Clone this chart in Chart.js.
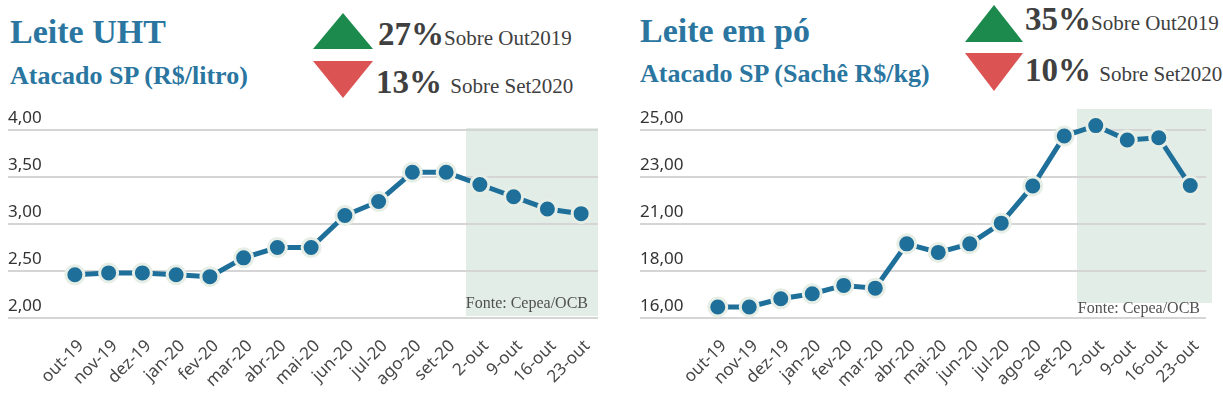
<!DOCTYPE html>
<html>
<head>
<meta charset="utf-8">
<script src="https://cdn.jsdelivr.net/npm/chart.js@4.4.0/dist/chart.umd.min.js"></script>
<style>
    body { margin: 0; background: #fff; width: 1223px; height: 398px; overflow: hidden; position: relative; font-family: 'Liberation Serif', 'Times New Roman', serif; }
    .title { position: absolute; font-weight: bold; color: #2a76a0; white-space: nowrap; line-height: 1; }
    .title.main { font-size: 34px; }
    .title.sub { font-size: 26px; }
    .pct { position: absolute; white-space: nowrap; line-height: 1; color: #404040; font-size: 33px; font-weight: bold; }
    .pct span { font-size: 21px; font-weight: normal; }
    .tri { position: absolute; width: 0; height: 0; }
    .up { border-left: 30px solid transparent; border-right: 30px solid transparent; border-bottom: 36px solid #1b8a4c; }
    .down { border-left: 30px solid transparent; border-right: 30px solid transparent; border-top: 37px solid #dc5353; }
    .chart-box { position: absolute; top: 100px; height: 298px; }
</style>
</head>
<body>

<div class="title main" style="left:10px; top:15px;">Leite UHT</div>
<div class="title sub" style="left:10px; top:63px;">Atacado SP (R$/litro)</div>
<div class="tri up" style="left:313px; top:13px;"></div>
<div class="tri down" style="left:313px; top:61px;"></div>
<div class="pct" style="left:378px; top:18px;">27%<span>Sobre Out2019</span></div>
<div class="pct" style="left:376px; top:66px;">13% <span>Sobre Set2020</span></div>

<div class="title main" style="left:640px; top:14px;">Leite em pó</div>
<div class="title sub" style="left:640px; top:61px;">Atacado SP (Sachê R$/kg)</div>
<div class="tri up" style="left:965px; top:5px; border-left-width:29px; border-right-width:29px; border-bottom-width:37px;"></div>
<div class="tri down" style="left:965px; top:53px; border-left-width:29px; border-right-width:29px; border-top-width:38px;"></div>
<div class="pct" style="left:1025px; top:3px;">35%<span>Sobre Out2019</span></div>
<div class="pct" style="left:1025px; top:54px;">10% <span>Sobre Set2020</span></div>

<div class="chart-box" style="left:0px; width:610px;"><canvas id="uht-canvas"></canvas></div>
<div class="chart-box" style="left:620px; width:603px;"><canvas id="po-canvas"></canvas></div>

<script>
// Data
const categories = ['out-19', 'nov-19', 'dez-19', 'jan-20', 'fev-20', 'mar-20', 'abr-20', 'mai-20',
    'jun-20', 'jul-20', 'ago-20', 'set-20', '2-out', '9-out', '16-out', '23-out'];
const uhtValues = [2.46, 2.48, 2.48, 2.46, 2.44, 2.64, 2.75, 2.75, 3.09, 3.24, 3.55, 3.55, 3.42, 3.29, 3.16, 3.11];
const poValues = [16.53, 16.53, 16.92, 17.16, 17.56, 17.43, 19.55, 19.14, 19.55, 20.54, 22.32, 24.71, 25.21, 24.52, 24.63, 22.34];
const uhtTicks = { min: 2, max: 4, step: 0.5 };
const poTicks = { min: 16, max: 25, step: 2.25 };
const shadeFrom = '2-out';
const sourceText = 'Fonte: Cepea/OCB';

const BLUE = '#1e6f9a';

// shaded "October" band + source note
const shadePlugin = {
    id: 'shade',
    beforeDraw(chart, args, opts) {
        const { ctx, chartArea, scales } = chart;
        const x = scales.x;
        const idx = categories.indexOf(opts.from);
        const half = (x.getPixelForValue(1) - x.getPixelForValue(0)) / 2;
        const left = x.getPixelForValue(idx) - half + opts.inset.left;
        const right = chartArea.right + opts.inset.right;
        const top = chartArea.top - opts.inset.top;
        const bottom = chartArea.bottom - opts.inset.bottom;
        ctx.save();
        ctx.fillStyle = '#e2ede7';
        ctx.fillRect(left, top, right - left, bottom - top);
        ctx.restore();
    },
    beforeDatasetsDraw(chart, args, opts) {
        const { ctx, chartArea } = chart;
        ctx.save();
        ctx.font = '16px "Liberation Serif", serif';
        ctx.fillStyle = '#505050';
        ctx.textAlign = 'right';
        ctx.textBaseline = 'alphabetic';
        ctx.fillText(sourceText, chartArea.right - opts.text.right, chartArea.bottom - opts.text.bottom);
        ctx.restore();
    }
};

function makeChart(canvasId, values, ticks, formatTick, layout, shadeOpts) {
    const ctx = document.getElementById(canvasId);
    return new Chart(ctx, {
        type: 'line',
        data: {
            labels: categories,
            datasets: [{
                data: values,
                borderColor: BLUE,
                borderWidth: 5,
                tension: 0,
                pointRadius: 9,
                pointBorderWidth: 3,
                pointBackgroundColor: BLUE,
                pointBorderColor: '#e6eee6',
                clip: false
            }]
        },
        options: {
            responsive: true,
            maintainAspectRatio: false,
            animation: false,
            layout: { padding: layout.padding },
            plugins: {
                legend: { display: false },
                tooltip: { enabled: false },
                shade: shadeOpts
            },
            scales: {
                x: {
                    offset: true,
                    grid: { display: false, drawTicks: false },
                    border: { display: false },
                    ticks: {
                        autoSkip: false,
                        maxRotation: 45,
                        minRotation: 45,
                        padding: 18,
                        labelOffset: 6,
                        color: '#484848',
                        font: { family: 'Noto Sans', size: 17 }
                    },
                    afterFit(scale) {
                        scale.height = layout.xHeight;
                        scale.paddingLeft = 0;
                        scale.paddingRight = 0;
                    }
                },
                y: {
                    min: ticks.min,
                    max: ticks.max,
                    border: { display: false },
                    grid: { color: '#d5d5d5', lineWidth: 2, tickLength: layout.yWidth },
                    ticks: {
                        stepSize: ticks.step,
                        crossAlign: 'far',
                        labelOffset: -12,
                        padding: 0,
                        color: '#333',
                        font: { family: 'Noto Sans', size: 17 },
                        callback: formatTick
                    },
                    afterFit(scale) { scale.width = layout.yWidth; }
                }
            }
        },
        plugins: [shadePlugin]
    });
}

document.addEventListener('DOMContentLoaded', function() {
    makeChart('uht-canvas', uhtValues, uhtTicks,
        v => v.toFixed(2).replace('.', ','),
        { padding: { left: 8, right: 10, top: 30, bottom: 0 }, yWidth: 50, xHeight: 80 },
        { from: shadeFrom, inset: { left: 3, right: 0, top: 2, bottom: 2 }, text: { right: 10, bottom: 10 } });

    makeChart('po-canvas', poValues, poTicks,
        v => Math.round(v) + ',00',
        { padding: { left: 20, right: 17, top: 30, bottom: 0 }, yWidth: 62, xHeight: 80 },
        { from: shadeFrom, inset: { left: -3, right: 6, top: 21, bottom: 15 }, text: { right: 6, bottom: 5 } });
});
</script>
</body>
</html>
